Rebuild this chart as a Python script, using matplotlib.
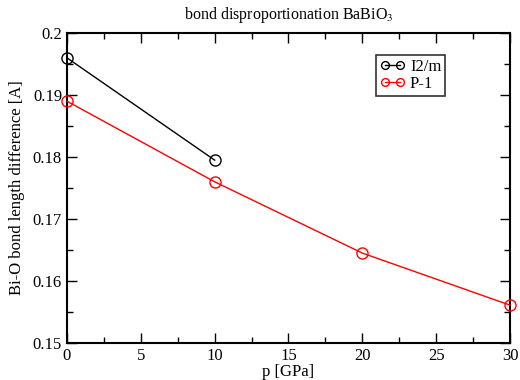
import numpy as np
import matplotlib.pyplot as plt
from matplotlib.ticker import MultipleLocator

plt.rcParams['font.family'] = ['Liberation Serif', 'DejaVu Serif']
plt.rcParams['mathtext.fontset'] = 'stix'

p_i2m = [0, 10]
d_i2m = [0.196, 0.1795]
p_p1 = [0, 10, 20, 30]
d_p1 = [0.189, 0.176, 0.1645, 0.1561]

fig = plt.figure(figsize=(5.2, 3.8), dpi=100)
ax = fig.add_axes([0.1288, 0.0974, 0.852, 0.8156])

ax.plot(p_i2m, d_i2m, '-o', color='black', lw=1, ms=8, mfc='none', mew=1,
        label='I2/m', clip_on=False, zorder=3)
ax.plot(p_p1, d_p1, '-o', color='red', lw=1, ms=8, mfc='none', mew=1,
        label='P-1', clip_on=False, zorder=3)

ax.set_xlim(0, 30)
ax.set_ylim(0.15, 0.2)
ax.xaxis.set_major_locator(MultipleLocator(5))
ax.xaxis.set_minor_locator(MultipleLocator(2.5))
ax.yaxis.set_minor_locator(MultipleLocator(0.005))
ax.set_yticks([0.15, 0.16, 0.17, 0.18, 0.19, 0.2])
ax.set_yticklabels(['0.15', '0.16', '0.17', '0.18', '0.19', '0.2'])
ax.tick_params(which='both', direction='in', top=True, right=True, labelsize=12, width=1)
ax.tick_params(which='major', length=7)
ax.tick_params(which='minor', length=4)
for s in ax.spines.values():
    s.set_linewidth(1.5)

ax.set_xlabel('p [GPa]', fontsize=12, labelpad=0)
ax.set_ylabel('Bi-O bond length difference [A]', fontsize=12, labelpad=6)
ax.set_title('bond disproportionation BaBiO$_3$', fontsize=11.5, pad=10)

leg = ax.legend(loc='upper left', bbox_to_anchor=(0.697, 0.93), fontsize=12,
                numpoints=2, markerscale=0.7, frameon=True, fancybox=False,
                edgecolor='black', handlelength=1.5, handletextpad=0.3,
                borderpad=0.25, labelspacing=0.05, borderaxespad=0)
leg.get_frame().set_linewidth(1.2)

fig.savefig('out.png', dpi=100)
